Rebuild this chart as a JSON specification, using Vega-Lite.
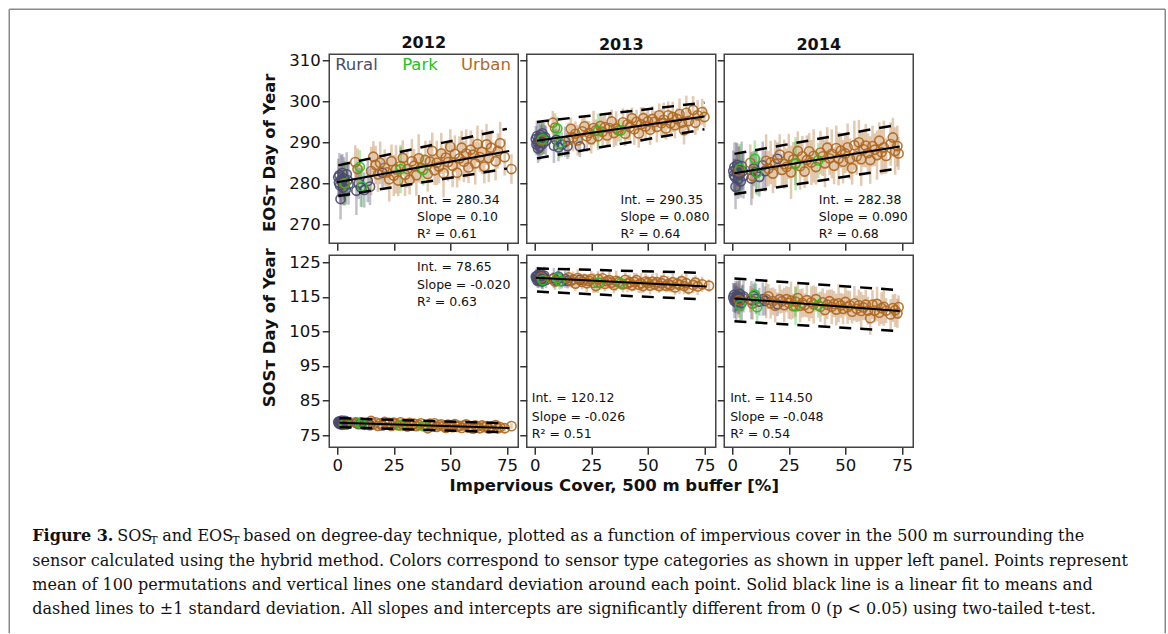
{
"$schema":"https://vega.github.io/schema/vega-lite/v6.json",
"padding":{"left":8.25,"top":8.25,"right":0,"bottom":0},
"background":"white",
"config":{
"font":"DejaVu Sans",
"view":{"stroke":null},
"axis":{"domain":false,"grid":false,"tickColor":"#333","tickWidth":1.5,"tickSize":7,"labelFont":"DejaVu Sans","labelFontSize":16.5,"labelColor":"#111","labelPadding":2,"titleFont":"DejaVu Sans","titleFontSize":16.5,"titleFontWeight":"bold","titleColor":"#111"},
"title":{"font":"DejaVu Sans","fontSize":16,"fontWeight":"bold","color":"#111","offset":1}
},
"datasets":{
"E12":[
{"c":"R","x":0.5,"y":281.5,"e":4.5},{"c":"R","x":0.8,"y":280.2,"e":3.6},{"c":"R","x":1.0,"y":282.0,"e":5.4},{"c":"R","x":1.3,"y":279.5,"e":4.1},{"c":"R","x":1.5,"y":276.2,"e":5.0},{"c":"R","x":1.8,"y":281.0,"e":5.9},{"c":"R","x":2.0,"y":280.5,"e":3.8},{"c":"R","x":2.3,"y":282.5,"e":4.7},{"c":"R","x":2.6,"y":279.0,"e":4.3},{"c":"R","x":3.0,"y":281.2,"e":5.2},{"c":"R","x":3.4,"y":280.0,"e":4.5},{"c":"R","x":3.8,"y":278.5,"e":3.6},{"c":"R","x":4.2,"y":282.2,"e":5.4},{"c":"R","x":4.6,"y":280.8,"e":4.1},{"c":"R","x":5.0,"y":279.8,"e":5.0},{"c":"R","x":8.5,"y":278.2,"e":5.9},{"c":"R","x":9.5,"y":280.0,"e":3.8},{"c":"R","x":10.5,"y":279.0,"e":4.7},{"c":"R","x":12.0,"y":278.4,"e":4.3},{"c":"R","x":13.5,"y":280.6,"e":5.2},{"c":"R","x":14.5,"y":279.2,"e":4.5},{"c":"R","x":20.0,"y":282.6,"e":3.6},
{"c":"U","x":3,"y":280.0,"e":5.4},{"c":"U","x":8,"y":285.2,"e":4.1},{"c":"U","x":9,"y":283.5,"e":5.0},{"c":"U","x":15,"y":283.0,"e":5.9},{"c":"U","x":16,"y":286.5,"e":3.8},{"c":"U","x":17,"y":284.5,"e":4.7},{"c":"U","x":18,"y":282.2,"e":4.3},{"c":"U","x":19,"y":285.0,"e":5.2},{"c":"U","x":21,"y":283.8,"e":4.5},{"c":"U","x":22,"y":282.7,"e":3.6},{"c":"U","x":23,"y":281.0,"e":5.4},{"c":"U","x":24,"y":285.4,"e":4.1},{"c":"U","x":25,"y":281.9,"e":5.0},{"c":"U","x":26,"y":283.4,"e":5.9},{"c":"U","x":27,"y":280.7,"e":3.8},{"c":"U","x":28,"y":284.2,"e":4.7},{"c":"U","x":29,"y":286.2,"e":4.3},{"c":"U","x":30,"y":282.1,"e":5.2},{"c":"U","x":31,"y":283.5,"e":4.5},{"c":"U","x":32,"y":280.9,"e":3.6},{"c":"U","x":33,"y":285.4,"e":5.4},{"c":"U","x":34,"y":284.3,"e":4.1},{"c":"U","x":35,"y":282.0,"e":5.0},{"c":"U","x":36,"y":286.1,"e":5.9},{"c":"U","x":37,"y":283.7,"e":3.8},{"c":"U","x":39,"y":285.7,"e":4.7},{"c":"U","x":40,"y":282.3,"e":4.3},{"c":"U","x":41,"y":285.3,"e":5.2},{"c":"U","x":42,"y":287.9,"e":4.5},{"c":"U","x":43,"y":283.2,"e":3.6},{"c":"U","x":44,"y":285.0,"e":5.4},{"c":"U","x":45,"y":284.1,"e":4.1},{"c":"U","x":46,"y":287.3,"e":5.0},{"c":"U","x":47,"y":282.5,"e":5.9},{"c":"U","x":48,"y":286.3,"e":3.8},{"c":"U","x":49,"y":285.2,"e":4.7},{"c":"U","x":50,"y":288.9,"e":4.3},{"c":"U","x":51,"y":284.3,"e":5.2},{"c":"U","x":52,"y":287.2,"e":4.5},{"c":"U","x":53,"y":282.6,"e":3.6},{"c":"U","x":54,"y":286.1,"e":5.4},{"c":"U","x":55,"y":288.7,"e":4.1},{"c":"U","x":56,"y":285.3,"e":5.0},{"c":"U","x":57,"y":287.3,"e":5.9},{"c":"U","x":58,"y":283.9,"e":3.8},{"c":"U","x":59,"y":288.2,"e":4.7},{"c":"U","x":60,"y":287.0,"e":4.3},{"c":"U","x":61,"y":284.9,"e":5.2},{"c":"U","x":62,"y":289.6,"e":4.5},{"c":"U","x":63,"y":286.4,"e":3.6},{"c":"U","x":64,"y":287.7,"e":5.4},{"c":"U","x":65,"y":284.1,"e":4.1},{"c":"U","x":66,"y":289.5,"e":5.0},{"c":"U","x":67,"y":286.2,"e":5.9},{"c":"U","x":68,"y":288.7,"e":3.8},{"c":"U","x":70,"y":285.4,"e":4.7},{"c":"U","x":71,"y":287.9,"e":4.3},{"c":"U","x":72,"y":289.8,"e":5.2},{"c":"U","x":74,"y":286.4,"e":4.5},{"c":"U","x":77,"y":283.5,"e":3.6},
{"c":"P","x":3.5,"y":280.0,"e":5.4},{"c":"P","x":10,"y":284.0,"e":4.1},{"c":"P","x":11,"y":279.2,"e":5.0},{"c":"P","x":28,"y":283.5,"e":5.9},{"c":"P","x":38,"y":283.3,"e":3.8}
],
"E13":[
{"c":"R","x":0.5,"y":290.8,"e":3.2},{"c":"R","x":0.8,"y":289.5,"e":2.6},{"c":"R","x":1.0,"y":291.5,"e":3.8},{"c":"R","x":1.3,"y":290.0,"e":2.9},{"c":"R","x":1.5,"y":288.5,"e":3.5},{"c":"R","x":1.8,"y":291.0,"e":4.2},{"c":"R","x":2.0,"y":290.2,"e":2.7},{"c":"R","x":2.3,"y":289.0,"e":3.4},{"c":"R","x":2.6,"y":291.8,"e":3.0},{"c":"R","x":3.0,"y":290.6,"e":3.7},{"c":"R","x":3.4,"y":292.2,"e":3.2},{"c":"R","x":3.8,"y":289.8,"e":2.6},{"c":"R","x":4.2,"y":290.9,"e":3.8},{"c":"R","x":4.6,"y":291.3,"e":2.9},{"c":"R","x":5.0,"y":290.4,"e":3.5},{"c":"R","x":8.5,"y":289.2,"e":4.2},{"c":"R","x":9.5,"y":290.6,"e":2.7},{"c":"R","x":10.5,"y":288.8,"e":3.4},{"c":"R","x":12.0,"y":289.5,"e":3.0},{"c":"R","x":13.5,"y":290.2,"e":3.7},{"c":"R","x":14.5,"y":289.1,"e":3.2},{"c":"R","x":20.0,"y":289.0,"e":2.6},
{"c":"U","x":3,"y":290.5,"e":3.8},{"c":"U","x":8,"y":294.8,"e":2.9},{"c":"U","x":9,"y":293.6,"e":3.5},{"c":"U","x":15,"y":290.6,"e":4.2},{"c":"U","x":16,"y":293.3,"e":2.7},{"c":"U","x":17,"y":291.2,"e":3.4},{"c":"U","x":18,"y":292.1,"e":3.0},{"c":"U","x":19,"y":290.5,"e":3.7},{"c":"U","x":21,"y":292.7,"e":3.2},{"c":"U","x":22,"y":293.9,"e":2.6},{"c":"U","x":23,"y":291.5,"e":3.8},{"c":"U","x":24,"y":292.3,"e":2.9},{"c":"U","x":25,"y":290.8,"e":3.5},{"c":"U","x":26,"y":293.5,"e":4.2},{"c":"U","x":27,"y":292.9,"e":2.7},{"c":"U","x":28,"y":291.5,"e":3.4},{"c":"U","x":29,"y":294.0,"e":3.0},{"c":"U","x":30,"y":292.6,"e":3.7},{"c":"U","x":31,"y":293.7,"e":3.2},{"c":"U","x":32,"y":291.7,"e":2.6},{"c":"U","x":33,"y":293.5,"e":3.8},{"c":"U","x":34,"y":295.1,"e":2.9},{"c":"U","x":35,"y":292.3,"e":3.5},{"c":"U","x":36,"y":293.4,"e":4.2},{"c":"U","x":37,"y":292.9,"e":2.7},{"c":"U","x":39,"y":294.9,"e":3.4},{"c":"U","x":40,"y":292.1,"e":3.0},{"c":"U","x":41,"y":294.4,"e":3.7},{"c":"U","x":42,"y":293.7,"e":3.2},{"c":"U","x":43,"y":295.9,"e":2.6},{"c":"U","x":44,"y":293.2,"e":3.8},{"c":"U","x":45,"y":295.0,"e":2.9},{"c":"U","x":46,"y":292.2,"e":3.5},{"c":"U","x":47,"y":294.4,"e":4.2},{"c":"U","x":48,"y":295.9,"e":2.7},{"c":"U","x":49,"y":293.9,"e":3.4},{"c":"U","x":50,"y":295.1,"e":3.0},{"c":"U","x":51,"y":293.1,"e":3.7},{"c":"U","x":52,"y":295.7,"e":3.2},{"c":"U","x":53,"y":295.0,"e":2.6},{"c":"U","x":54,"y":293.8,"e":3.8},{"c":"U","x":55,"y":296.6,"e":2.9},{"c":"U","x":56,"y":294.7,"e":3.5},{"c":"U","x":57,"y":295.5,"e":4.2},{"c":"U","x":58,"y":293.4,"e":2.7},{"c":"U","x":59,"y":296.6,"e":3.4},{"c":"U","x":60,"y":294.7,"e":3.0},{"c":"U","x":61,"y":296.2,"e":3.7},{"c":"U","x":62,"y":294.2,"e":3.2},{"c":"U","x":63,"y":295.7,"e":2.6},{"c":"U","x":64,"y":296.9,"e":3.8},{"c":"U","x":65,"y":294.8,"e":2.9},{"c":"U","x":66,"y":293.0,"e":3.5},{"c":"U","x":67,"y":297.2,"e":4.2},{"c":"U","x":68,"y":295.2,"e":2.7},{"c":"U","x":70,"y":297.9,"e":3.4},{"c":"U","x":71,"y":294.8,"e":3.0},{"c":"U","x":72,"y":296.6,"e":3.7},{"c":"U","x":74,"y":297.4,"e":3.2},{"c":"U","x":75,"y":296.2,"e":2.6},
{"c":"P","x":3.5,"y":290.8,"e":3.8},{"c":"P","x":10,"y":293.4,"e":2.9},{"c":"P","x":11,"y":289.8,"e":3.5},{"c":"P","x":28,"y":292.8,"e":4.2},{"c":"P","x":38,"y":292.9,"e":2.7}
],
"E14":[
{"c":"R","x":0.5,"y":283.0,"e":5.0},{"c":"R","x":0.8,"y":282.0,"e":4.0},{"c":"R","x":1.0,"y":284.0,"e":6.0},{"c":"R","x":1.3,"y":281.5,"e":4.5},{"c":"R","x":1.5,"y":279.2,"e":5.5},{"c":"R","x":1.8,"y":283.5,"e":6.5},{"c":"R","x":2.0,"y":282.6,"e":4.3},{"c":"R","x":2.3,"y":284.5,"e":5.3},{"c":"R","x":2.6,"y":281.0,"e":4.8},{"c":"R","x":3.0,"y":283.2,"e":5.8},{"c":"R","x":3.4,"y":282.2,"e":5.0},{"c":"R","x":3.8,"y":280.5,"e":4.0},{"c":"R","x":4.2,"y":284.2,"e":6.0},{"c":"R","x":4.6,"y":283.0,"e":4.5},{"c":"R","x":5.0,"y":281.8,"e":5.5},{"c":"R","x":8.5,"y":281.2,"e":6.5},{"c":"R","x":9.5,"y":283.6,"e":4.3},{"c":"R","x":10.5,"y":282.8,"e":5.3},{"c":"R","x":12.0,"y":281.6,"e":4.8},{"c":"R","x":13.5,"y":284.4,"e":5.8},{"c":"R","x":14.5,"y":283.0,"e":5.0},{"c":"R","x":20.0,"y":286.0,"e":4.0},
{"c":"U","x":3,"y":283.0,"e":6.0},{"c":"U","x":8,"y":285.0,"e":4.5},{"c":"U","x":9,"y":281.8,"e":5.5},{"c":"U","x":15,"y":285.5,"e":6.5},{"c":"U","x":16,"y":283.6,"e":4.3},{"c":"U","x":17,"y":285.1,"e":5.3},{"c":"U","x":18,"y":282.4,"e":4.8},{"c":"U","x":19,"y":284.8,"e":5.8},{"c":"U","x":21,"y":287.0,"e":5.0},{"c":"U","x":22,"y":283.3,"e":4.0},{"c":"U","x":23,"y":284.7,"e":6.0},{"c":"U","x":24,"y":284.0,"e":4.5},{"c":"U","x":25,"y":286.6,"e":5.5},{"c":"U","x":26,"y":282.7,"e":6.5},{"c":"U","x":27,"y":285.8,"e":4.3},{"c":"U","x":28,"y":284.9,"e":5.3},{"c":"U","x":29,"y":287.9,"e":4.8},{"c":"U","x":30,"y":284.2,"e":5.8},{"c":"U","x":31,"y":286.6,"e":5.0},{"c":"U","x":32,"y":282.9,"e":4.0},{"c":"U","x":33,"y":285.7,"e":6.0},{"c":"U","x":34,"y":287.8,"e":4.5},{"c":"U","x":35,"y":285.1,"e":5.5},{"c":"U","x":36,"y":286.7,"e":6.5},{"c":"U","x":37,"y":284.0,"e":4.3},{"c":"U","x":39,"y":287.5,"e":5.3},{"c":"U","x":40,"y":286.6,"e":4.8},{"c":"U","x":41,"y":284.9,"e":5.8},{"c":"U","x":42,"y":288.7,"e":5.0},{"c":"U","x":43,"y":286.1,"e":4.0},{"c":"U","x":44,"y":287.2,"e":6.0},{"c":"U","x":45,"y":284.3,"e":4.5},{"c":"U","x":46,"y":288.6,"e":5.5},{"c":"U","x":47,"y":286.0,"e":6.5},{"c":"U","x":48,"y":288.0,"e":4.3},{"c":"U","x":49,"y":285.3,"e":5.3},{"c":"U","x":50,"y":287.3,"e":4.8},{"c":"U","x":51,"y":288.8,"e":5.8},{"c":"U","x":52,"y":286.0,"e":5.0},{"c":"U","x":53,"y":283.7,"e":4.0},{"c":"U","x":54,"y":289.3,"e":6.0},{"c":"U","x":55,"y":286.6,"e":4.5},{"c":"U","x":56,"y":290.0,"e":5.5},{"c":"U","x":57,"y":285.9,"e":6.5},{"c":"U","x":58,"y":288.3,"e":4.3},{"c":"U","x":59,"y":289.2,"e":5.3},{"c":"U","x":60,"y":287.4,"e":4.8},{"c":"U","x":61,"y":285.7,"e":5.8},{"c":"U","x":62,"y":289.1,"e":5.0},{"c":"U","x":63,"y":288.2,"e":4.0},{"c":"U","x":64,"y":286.9,"e":6.0},{"c":"U","x":65,"y":290.4,"e":4.5},{"c":"U","x":66,"y":287.6,"e":5.5},{"c":"U","x":67,"y":288.8,"e":6.5},{"c":"U","x":68,"y":286.7,"e":4.3},{"c":"U","x":70,"y":289.6,"e":5.3},{"c":"U","x":71,"y":291.2,"e":4.8},{"c":"U","x":72,"y":287.9,"e":5.8},{"c":"U","x":73,"y":289.1,"e":5.0},{"c":"U","x":73.5,"y":287.3,"e":4.0},
{"c":"P","x":3.5,"y":283.6,"e":6.0},{"c":"P","x":10,"y":286.0,"e":4.5},{"c":"P","x":11,"y":282.6,"e":5.5},{"c":"P","x":28,"y":284.8,"e":6.5},{"c":"P","x":38,"y":285.6,"e":4.3}
],
"S12":[
{"c":"R","x":0.5,"y":78.8,"e":1.0},{"c":"R","x":0.8,"y":78.4,"e":0.8},{"c":"R","x":1.0,"y":79.0,"e":1.2},{"c":"R","x":1.3,"y":78.2,"e":0.9},{"c":"R","x":1.5,"y":78.9,"e":1.1},{"c":"R","x":1.8,"y":78.5,"e":1.3},{"c":"R","x":2.0,"y":79.2,"e":0.9},{"c":"R","x":2.3,"y":78.0,"e":1.1},{"c":"R","x":2.6,"y":78.7,"e":1.0},{"c":"R","x":3.0,"y":78.3,"e":1.2},{"c":"R","x":3.4,"y":79.1,"e":1.0},{"c":"R","x":3.8,"y":78.6,"e":0.8},{"c":"R","x":4.2,"y":78.1,"e":1.2},{"c":"R","x":4.6,"y":78.8,"e":0.9},{"c":"R","x":5.0,"y":78.4,"e":1.1},{"c":"R","x":8.5,"y":78.5,"e":1.3},{"c":"R","x":9.5,"y":78.2,"e":0.9},{"c":"R","x":10.5,"y":78.6,"e":1.1},{"c":"R","x":12.0,"y":78.0,"e":1.0},{"c":"R","x":13.5,"y":78.3,"e":1.2},{"c":"R","x":14.5,"y":77.9,"e":1.0},{"c":"R","x":20.0,"y":77.8,"e":0.8},
{"c":"U","x":3,"y":78.1,"e":1.2},{"c":"U","x":8,"y":78.7,"e":0.9},{"c":"U","x":9,"y":78.5,"e":1.1},{"c":"U","x":15,"y":79.1,"e":1.3},{"c":"U","x":16,"y":78.1,"e":0.9},{"c":"U","x":17,"y":78.7,"e":1.1},{"c":"U","x":18,"y":77.7,"e":1.0},{"c":"U","x":19,"y":78.4,"e":1.2},{"c":"U","x":21,"y":78.8,"e":1.0},{"c":"U","x":22,"y":78.1,"e":0.8},{"c":"U","x":23,"y":78.5,"e":1.2},{"c":"U","x":24,"y":77.7,"e":0.9},{"c":"U","x":25,"y":78.6,"e":1.1},{"c":"U","x":26,"y":78.3,"e":1.3},{"c":"U","x":27,"y":77.8,"e":0.9},{"c":"U","x":28,"y":78.7,"e":1.1},{"c":"U","x":29,"y":78.0,"e":1.0},{"c":"U","x":30,"y":78.3,"e":1.2},{"c":"U","x":31,"y":77.5,"e":1.0},{"c":"U","x":32,"y":78.5,"e":0.8},{"c":"U","x":33,"y":77.8,"e":1.2},{"c":"U","x":34,"y":78.3,"e":0.9},{"c":"U","x":35,"y":77.6,"e":1.1},{"c":"U","x":36,"y":78.0,"e":1.3},{"c":"U","x":37,"y":78.4,"e":0.9},{"c":"U","x":39,"y":77.6,"e":1.1},{"c":"U","x":40,"y":77.0,"e":1.0},{"c":"U","x":41,"y":78.3,"e":1.2},{"c":"U","x":42,"y":77.6,"e":1.0},{"c":"U","x":43,"y":78.4,"e":0.8},{"c":"U","x":44,"y":77.4,"e":1.2},{"c":"U","x":45,"y":77.9,"e":0.9},{"c":"U","x":46,"y":78.1,"e":1.1},{"c":"U","x":47,"y":77.6,"e":1.3},{"c":"U","x":48,"y":77.1,"e":0.9},{"c":"U","x":49,"y":78.0,"e":1.1},{"c":"U","x":50,"y":77.7,"e":1.0},{"c":"U","x":51,"y":77.3,"e":1.2},{"c":"U","x":52,"y":78.2,"e":1.0},{"c":"U","x":53,"y":77.4,"e":0.8},{"c":"U","x":54,"y":77.7,"e":1.2},{"c":"U","x":55,"y":77.1,"e":0.9},{"c":"U","x":56,"y":77.8,"e":1.1},{"c":"U","x":57,"y":78.1,"e":1.3},{"c":"U","x":58,"y":77.3,"e":0.9},{"c":"U","x":59,"y":77.5,"e":1.1},{"c":"U","x":60,"y":76.9,"e":1.0},{"c":"U","x":61,"y":77.8,"e":1.2},{"c":"U","x":62,"y":77.5,"e":1.0},{"c":"U","x":63,"y":77.0,"e":0.8},{"c":"U","x":64,"y":77.8,"e":1.2},{"c":"U","x":65,"y":77.3,"e":0.9},{"c":"U","x":66,"y":77.6,"e":1.1},{"c":"U","x":67,"y":76.9,"e":1.3},{"c":"U","x":68,"y":77.5,"e":0.9},{"c":"U","x":70,"y":77.9,"e":1.1},{"c":"U","x":71,"y":77.0,"e":1.0},{"c":"U","x":72,"y":77.3,"e":1.2},{"c":"U","x":74,"y":77.0,"e":1.0},{"c":"U","x":77,"y":77.6,"e":0.8},
{"c":"P","x":3.5,"y":78.4,"e":1.2},{"c":"P","x":10,"y":78.5,"e":0.9},{"c":"P","x":11,"y":78.2,"e":1.1},{"c":"P","x":28,"y":77.8,"e":1.3},{"c":"P","x":38,"y":77.6,"e":0.9}
],
"S13":[
{"c":"R","x":0.5,"y":120.8,"e":2.2},{"c":"R","x":0.8,"y":120.2,"e":1.8},{"c":"R","x":1.0,"y":121.0,"e":2.6},{"c":"R","x":1.3,"y":119.6,"e":2.0},{"c":"R","x":1.5,"y":121.3,"e":2.4},{"c":"R","x":1.8,"y":120.5,"e":2.9},{"c":"R","x":2.0,"y":119.8,"e":1.9},{"c":"R","x":2.3,"y":120.9,"e":2.3},{"c":"R","x":2.6,"y":121.5,"e":2.1},{"c":"R","x":3.0,"y":120.0,"e":2.5},{"c":"R","x":3.4,"y":119.4,"e":2.2},{"c":"R","x":3.8,"y":120.6,"e":1.8},{"c":"R","x":4.2,"y":121.1,"e":2.6},{"c":"R","x":4.6,"y":120.3,"e":2.0},{"c":"R","x":5.0,"y":119.9,"e":2.4},{"c":"R","x":8.5,"y":120.4,"e":2.9},{"c":"R","x":9.5,"y":119.7,"e":1.9},{"c":"R","x":10.5,"y":120.8,"e":2.3},{"c":"R","x":12.0,"y":119.5,"e":2.1},{"c":"R","x":13.5,"y":120.1,"e":2.5},{"c":"R","x":14.5,"y":119.6,"e":2.2},{"c":"R","x":20.0,"y":119.9,"e":1.8},
{"c":"U","x":3,"y":120.6,"e":2.6},{"c":"U","x":8,"y":120.1,"e":2.0},{"c":"U","x":9,"y":119.4,"e":2.4},{"c":"U","x":15,"y":120.6,"e":2.9},{"c":"U","x":16,"y":119.6,"e":1.9},{"c":"U","x":17,"y":120.0,"e":2.3},{"c":"U","x":18,"y":118.8,"e":2.1},{"c":"U","x":19,"y":120.4,"e":2.5},{"c":"U","x":21,"y":119.3,"e":2.2},{"c":"U","x":22,"y":120.0,"e":1.8},{"c":"U","x":23,"y":118.9,"e":2.6},{"c":"U","x":24,"y":119.6,"e":2.0},{"c":"U","x":25,"y":120.1,"e":2.4},{"c":"U","x":26,"y":119.0,"e":2.9},{"c":"U","x":27,"y":118.1,"e":1.9},{"c":"U","x":28,"y":120.1,"e":2.3},{"c":"U","x":29,"y":119.0,"e":2.1},{"c":"U","x":30,"y":120.3,"e":2.5},{"c":"U","x":31,"y":118.7,"e":2.2},{"c":"U","x":32,"y":119.5,"e":1.8},{"c":"U","x":33,"y":119.8,"e":2.6},{"c":"U","x":34,"y":119.1,"e":2.0},{"c":"U","x":35,"y":118.4,"e":2.4},{"c":"U","x":36,"y":119.6,"e":2.9},{"c":"U","x":37,"y":119.2,"e":1.9},{"c":"U","x":39,"y":118.6,"e":2.3},{"c":"U","x":40,"y":119.9,"e":2.1},{"c":"U","x":41,"y":118.8,"e":2.5},{"c":"U","x":42,"y":119.2,"e":2.2},{"c":"U","x":43,"y":118.3,"e":1.8},{"c":"U","x":44,"y":119.3,"e":2.6},{"c":"U","x":45,"y":119.8,"e":2.0},{"c":"U","x":46,"y":118.5,"e":2.4},{"c":"U","x":47,"y":118.9,"e":2.9},{"c":"U","x":48,"y":118.1,"e":1.9},{"c":"U","x":49,"y":119.4,"e":2.3},{"c":"U","x":50,"y":119.0,"e":2.1},{"c":"U","x":51,"y":118.2,"e":2.5},{"c":"U","x":52,"y":119.4,"e":2.2},{"c":"U","x":53,"y":118.6,"e":1.8},{"c":"U","x":54,"y":119.2,"e":2.6},{"c":"U","x":55,"y":118.1,"e":2.0},{"c":"U","x":56,"y":118.9,"e":2.4},{"c":"U","x":57,"y":119.6,"e":2.9},{"c":"U","x":58,"y":118.2,"e":1.9},{"c":"U","x":59,"y":118.7,"e":2.3},{"c":"U","x":60,"y":118.3,"e":2.1},{"c":"U","x":61,"y":119.2,"e":2.5},{"c":"U","x":62,"y":117.7,"e":2.2},{"c":"U","x":63,"y":118.8,"e":1.8},{"c":"U","x":64,"y":118.4,"e":2.6},{"c":"U","x":65,"y":119.5,"e":2.0},{"c":"U","x":66,"y":118.1,"e":2.4},{"c":"U","x":67,"y":118.9,"e":2.9},{"c":"U","x":68,"y":117.4,"e":1.9},{"c":"U","x":70,"y":118.4,"e":2.3},{"c":"U","x":71,"y":119.1,"e":2.1},{"c":"U","x":72,"y":118.0,"e":2.5},{"c":"U","x":74,"y":118.6,"e":2.2},{"c":"U","x":77,"y":118.2,"e":1.8},
{"c":"P","x":3.5,"y":119.8,"e":2.6},{"c":"P","x":10,"y":120.5,"e":2.0},{"c":"P","x":11,"y":119.5,"e":2.4},{"c":"P","x":28,"y":119.0,"e":2.9},{"c":"P","x":38,"y":118.9,"e":1.9}
],
"S14":[
{"c":"R","x":0.5,"y":114.8,"e":4.2},{"c":"R","x":0.8,"y":115.5,"e":3.4},{"c":"R","x":1.0,"y":113.8,"e":5.0},{"c":"R","x":1.3,"y":114.2,"e":3.8},{"c":"R","x":1.5,"y":115.0,"e":4.6},{"c":"R","x":1.8,"y":113.5,"e":5.5},{"c":"R","x":2.0,"y":114.6,"e":3.6},{"c":"R","x":2.3,"y":115.3,"e":4.4},{"c":"R","x":2.6,"y":113.9,"e":4.0},{"c":"R","x":3.0,"y":114.9,"e":4.8},{"c":"R","x":3.4,"y":115.8,"e":4.2},{"c":"R","x":3.8,"y":114.1,"e":3.4},{"c":"R","x":4.2,"y":113.2,"e":5.0},{"c":"R","x":4.6,"y":114.7,"e":3.8},{"c":"R","x":5.0,"y":115.1,"e":4.6},{"c":"R","x":8.5,"y":114.0,"e":5.5},{"c":"R","x":9.5,"y":115.2,"e":3.6},{"c":"R","x":10.5,"y":114.4,"e":4.4},{"c":"R","x":12.0,"y":113.6,"e":4.0},{"c":"R","x":13.5,"y":114.3,"e":4.8},{"c":"R","x":14.5,"y":113.8,"e":4.2},{"c":"R","x":20.0,"y":112.8,"e":3.4},
{"c":"U","x":3,"y":114.0,"e":5.0},{"c":"U","x":8,"y":114.3,"e":3.8},{"c":"U","x":9,"y":113.0,"e":4.6},{"c":"U","x":15,"y":114.3,"e":5.5},{"c":"U","x":16,"y":115.1,"e":3.6},{"c":"U","x":17,"y":113.1,"e":4.4},{"c":"U","x":18,"y":113.7,"e":4.0},{"c":"U","x":19,"y":112.4,"e":4.8},{"c":"U","x":21,"y":114.3,"e":4.2},{"c":"U","x":22,"y":113.7,"e":3.4},{"c":"U","x":23,"y":112.6,"e":5.0},{"c":"U","x":24,"y":114.3,"e":3.8},{"c":"U","x":25,"y":113.2,"e":4.6},{"c":"U","x":26,"y":113.9,"e":5.5},{"c":"U","x":27,"y":112.3,"e":3.6},{"c":"U","x":28,"y":113.6,"e":4.4},{"c":"U","x":29,"y":114.6,"e":4.0},{"c":"U","x":30,"y":112.4,"e":4.8},{"c":"U","x":31,"y":113.2,"e":4.2},{"c":"U","x":32,"y":112.6,"e":3.4},{"c":"U","x":33,"y":114.0,"e":5.0},{"c":"U","x":34,"y":111.7,"e":3.8},{"c":"U","x":35,"y":113.4,"e":4.6},{"c":"U","x":36,"y":112.8,"e":5.5},{"c":"U","x":37,"y":114.3,"e":3.6},{"c":"U","x":39,"y":112.1,"e":4.4},{"c":"U","x":40,"y":113.4,"e":4.0},{"c":"U","x":41,"y":111.2,"e":4.8},{"c":"U","x":42,"y":112.7,"e":4.2},{"c":"U","x":43,"y":113.7,"e":3.4},{"c":"U","x":44,"y":112.1,"e":5.0},{"c":"U","x":45,"y":112.9,"e":3.8},{"c":"U","x":46,"y":111.3,"e":4.6},{"c":"U","x":47,"y":113.1,"e":5.5},{"c":"U","x":48,"y":112.5,"e":3.6},{"c":"U","x":49,"y":111.5,"e":4.4},{"c":"U","x":50,"y":113.5,"e":4.0},{"c":"U","x":51,"y":112.0,"e":4.8},{"c":"U","x":52,"y":112.5,"e":4.2},{"c":"U","x":53,"y":110.7,"e":3.4},{"c":"U","x":54,"y":113.1,"e":5.0},{"c":"U","x":55,"y":111.5,"e":3.8},{"c":"U","x":56,"y":112.5,"e":4.6},{"c":"U","x":57,"y":110.9,"e":5.5},{"c":"U","x":58,"y":111.9,"e":3.6},{"c":"U","x":59,"y":112.7,"e":4.4},{"c":"U","x":60,"y":111.0,"e":4.0},{"c":"U","x":61,"y":108.8,"e":4.8},{"c":"U","x":62,"y":112.7,"e":4.2},{"c":"U","x":63,"y":111.0,"e":3.4},{"c":"U","x":64,"y":112.9,"e":5.0},{"c":"U","x":65,"y":110.4,"e":3.8},{"c":"U","x":66,"y":111.7,"e":4.6},{"c":"U","x":67,"y":112.1,"e":5.5},{"c":"U","x":68,"y":111.0,"e":3.6},{"c":"U","x":70,"y":109.9,"e":4.4},{"c":"U","x":71,"y":111.7,"e":4.0},{"c":"U","x":72,"y":111.1,"e":4.8},{"c":"U","x":73,"y":110.2,"e":4.2},{"c":"U","x":73.5,"y":112.0,"e":3.4},
{"c":"P","x":3.5,"y":112.5,"e":5.0},{"c":"P","x":10,"y":115.6,"e":3.8},{"c":"P","x":11,"y":112.0,"e":4.6},{"c":"P","x":28,"y":112.3,"e":5.5},{"c":"P","x":38,"y":112.6,"e":3.6}
],
"lines":[
{"p":"E12","k":"f","x":0,"y":280.3},{"p":"E12","k":"f","x":76,"y":287.9},{"p":"E12","k":"u","x":0.5,"y":284.4},{"p":"E12","k":"u","x":75,"y":293.3},{"p":"E12","k":"l","x":0.5,"y":276.9},{"p":"E12","k":"l","x":75,"y":283.6},
{"p":"E13","k":"f","x":1,"y":290.4},{"p":"E13","k":"f","x":75,"y":296.3},{"p":"E13","k":"u","x":1,"y":295.0},{"p":"E13","k":"u","x":75,"y":299.7},{"p":"E13","k":"l","x":1,"y":286.1},{"p":"E13","k":"l","x":75,"y":293.2},
{"p":"E14","k":"f","x":1,"y":282.5},{"p":"E14","k":"f","x":74,"y":289.0},{"p":"E14","k":"u","x":1,"y":287.2},{"p":"E14","k":"u","x":74,"y":294.4},{"p":"E14","k":"l","x":1,"y":277.4},{"p":"E14","k":"l","x":74,"y":283.7},
{"p":"S12","k":"f","x":1,"y":78.6},{"p":"S12","k":"f","x":76,"y":77.1},{"p":"S12","k":"u","x":1,"y":79.9},{"p":"S12","k":"u","x":75,"y":78.4},{"p":"S12","k":"l","x":1,"y":77.3},{"p":"S12","k":"l","x":75,"y":75.8},
{"p":"S13","k":"f","x":0.5,"y":120.5},{"p":"S13","k":"f","x":76,"y":118.0},{"p":"S13","k":"u","x":1,"y":123.2},{"p":"S13","k":"u","x":75,"y":121.9},{"p":"S13","k":"l","x":1,"y":116.5},{"p":"S13","k":"l","x":75,"y":114.2},
{"p":"S14","k":"f","x":1,"y":114.5},{"p":"S14","k":"f","x":74,"y":110.9},{"p":"S14","k":"u","x":1,"y":120.3},{"p":"S14","k":"u","x":74,"y":116.9},{"p":"S14","k":"l","x":1,"y":107.9},{"p":"S14","k":"l","x":74,"y":105.1}
],
"notes":[
{"p":"E12","x":35.3,"y":275.9,"t":"Int. = 280.34"},{"p":"E12","x":35.3,"y":271.8,"t":"Slope = 0.10"},{"p":"E12","x":35.3,"y":267.6,"t":"R² = 0.61"},
{"p":"E13","x":37.9,"y":275.9,"t":"Int. = 290.35"},{"p":"E13","x":37.9,"y":271.8,"t":"Slope = 0.080"},{"p":"E13","x":37.9,"y":267.6,"t":"R² = 0.64"},
{"p":"E14","x":38.3,"y":275.9,"t":"Int. = 282.38"},{"p":"E14","x":38.3,"y":271.8,"t":"Slope = 0.090"},{"p":"E14","x":38.3,"y":267.6,"t":"R² = 0.68"},
{"p":"S12","x":35.3,"y":123.6,"t":"Int. = 78.65"},{"p":"S12","x":35.3,"y":118.4,"t":"Slope = -0.020"},{"p":"S12","x":35.3,"y":113.4,"t":"R² = 0.63"},
{"p":"S13","x":-1.3,"y":85.7,"t":"Int. = 120.12"},{"p":"S13","x":-1.3,"y":80.2,"t":"Slope = -0.026"},{"p":"S13","x":-1.3,"y":75.3,"t":"R² = 0.51"},
{"p":"S14","x":-0.9,"y":85.7,"t":"Int. = 114.50"},{"p":"S14","x":-0.9,"y":80.2,"t":"Slope = -0.048"},{"p":"S14","x":-0.9,"y":75.3,"t":"R² = 0.54"}
],
"legend":[
{"c":"R","t":"Rural","x":-0.9,"y":308.8},{"c":"P","t":"Park","x":28.7,"y":308.8},{"c":"U","t":"Urban","x":54.7,"y":308.8}
]
},
"concat":[
{
"width":189,"height":189,"title":"2012",
"view":{"stroke":"#444","strokeWidth":1.5},
"encoding":{
"x":{"field":"x","type":"quantitative","scale":{"domain":[-3.5,80],"nice":false,"zero":false},"axis":{"values":[0,25,50,75],"labels":false,"title":null}},
"y":{"field":"y","type":"quantitative","scale":{"domain":[265.4,311.5],"nice":false,"zero":false},"axis":{"values":[270,280,290,300,310],"title":"EOSᴛ Day of Year","titlePadding":11,"titleY":98}}
},
"layer":[
{"data":{"name":"E12"},"mark":{"type":"errorbar","thickness":2.5,"rule":{"opacity":0.35}},"encoding":{"yError":{"field":"e"},"color":{"field":"c","type":"nominal","scale":{"domain":["R","P","U"],"range":["#4a4a6e","#22c322","#b0681f"]},"legend":null}}},
{"data":{"name":"E12"},"mark":{"type":"point","filled":false,"size":85,"strokeWidth":1.6,"opacity":0.9},"encoding":{"color":{"field":"c","type":"nominal","scale":{"domain":["R","P","U"],"range":["#4a4a6e","#22c322","#b0681f"]},"legend":null}}},
{"data":{"name":"lines"},"transform":[{"filter":"datum.p=='E12' && datum.k!='f'"}],"mark":{"type":"line","color":"#000","strokeWidth":2.5,"strokeDash":[12,9]},"encoding":{"detail":{"field":"k"}}},
{"data":{"name":"lines"},"transform":[{"filter":"datum.p=='E12' && datum.k=='f'"}],"mark":{"type":"line","color":"#000","strokeWidth":2},"encoding":{}},
{"data":{"name":"notes"},"transform":[{"filter":"datum.p=='E12'"}],"mark":{"type":"text","align":"left","baseline":"middle","fontSize":12.5,"color":"#111"},"encoding":{"text":{"field":"t"}}},
{"data":{"name":"legend"},"mark":{"type":"text","align":"left","baseline":"middle","fontSize":16.5},"encoding":{"text":{"field":"t"},"color":{"field":"c","type":"nominal","scale":{"domain":["R","P","U"],"range":["#4a4a6e","#22c322","#b0681f"]},"legend":null}}}
]
},
{
"width":189,"height":189,"title":"2013",
"view":{"stroke":"#444","strokeWidth":1.5},
"encoding":{
"x":{"field":"x","type":"quantitative","scale":{"domain":[-3.5,80],"nice":false,"zero":false},"axis":{"values":[0,25,50,75],"labels":false,"title":null}},
"y":{"field":"y","type":"quantitative","scale":{"domain":[265.4,311.5],"nice":false,"zero":false},"axis":{"values":[270,280,290,300,310],"labels":false,"title":null}}
},
"layer":[
{"data":{"name":"E13"},"mark":{"type":"errorbar","thickness":2.5,"rule":{"opacity":0.35}},"encoding":{"yError":{"field":"e"},"color":{"field":"c","type":"nominal","scale":{"domain":["R","P","U"],"range":["#4a4a6e","#22c322","#b0681f"]},"legend":null}}},
{"data":{"name":"E13"},"mark":{"type":"point","filled":false,"size":85,"strokeWidth":1.6,"opacity":0.9},"encoding":{"color":{"field":"c","type":"nominal","scale":{"domain":["R","P","U"],"range":["#4a4a6e","#22c322","#b0681f"]},"legend":null}}},
{"data":{"name":"lines"},"transform":[{"filter":"datum.p=='E13' && datum.k!='f'"}],"mark":{"type":"line","color":"#000","strokeWidth":2.5,"strokeDash":[12,9]},"encoding":{"detail":{"field":"k"}}},
{"data":{"name":"lines"},"transform":[{"filter":"datum.p=='E13' && datum.k=='f'"}],"mark":{"type":"line","color":"#000","strokeWidth":2},"encoding":{}},
{"data":{"name":"notes"},"transform":[{"filter":"datum.p=='E13'"}],"mark":{"type":"text","align":"left","baseline":"middle","fontSize":12.5,"color":"#111"},"encoding":{"text":{"field":"t"}}}
]
},
{
"width":189,"height":189,"title":"2014",
"view":{"stroke":"#444","strokeWidth":1.5},
"encoding":{
"x":{"field":"x","type":"quantitative","scale":{"domain":[-3.5,80],"nice":false,"zero":false},"axis":{"values":[0,25,50,75],"labels":false,"title":null}},
"y":{"field":"y","type":"quantitative","scale":{"domain":[265.4,311.5],"nice":false,"zero":false},"axis":{"values":[270,280,290,300,310],"labels":false,"title":null}}
},
"layer":[
{"data":{"name":"E14"},"mark":{"type":"errorbar","thickness":2.5,"rule":{"opacity":0.35}},"encoding":{"yError":{"field":"e"},"color":{"field":"c","type":"nominal","scale":{"domain":["R","P","U"],"range":["#4a4a6e","#22c322","#b0681f"]},"legend":null}}},
{"data":{"name":"E14"},"mark":{"type":"point","filled":false,"size":85,"strokeWidth":1.6,"opacity":0.9},"encoding":{"color":{"field":"c","type":"nominal","scale":{"domain":["R","P","U"],"range":["#4a4a6e","#22c322","#b0681f"]},"legend":null}}},
{"data":{"name":"lines"},"transform":[{"filter":"datum.p=='E14' && datum.k!='f'"}],"mark":{"type":"line","color":"#000","strokeWidth":2.5,"strokeDash":[12,9]},"encoding":{"detail":{"field":"k"}}},
{"data":{"name":"lines"},"transform":[{"filter":"datum.p=='E14' && datum.k=='f'"}],"mark":{"type":"line","color":"#000","strokeWidth":2},"encoding":{}},
{"data":{"name":"notes"},"transform":[{"filter":"datum.p=='E14'"}],"mark":{"type":"text","align":"left","baseline":"middle","fontSize":12.5,"color":"#111"},"encoding":{"text":{"field":"t"}}}
]
},
{
"width":189,"height":192,
"view":{"stroke":"#444","strokeWidth":1.5},
"encoding":{
"x":{"field":"x","type":"quantitative","scale":{"domain":[-3.5,80],"nice":false,"zero":false},"axis":{"values":[0,25,50,75],"title":null,"labelPadding":3}},
"y":{"field":"y","type":"quantitative","scale":{"domain":[71.5,127],"nice":false,"zero":false},"axis":{"values":[75,85,95,105,115,125],"title":"SOSᴛ Day of Year","titlePadding":11,"titleY":72}}
},
"layer":[
{"data":{"name":"S12"},"mark":{"type":"errorbar","thickness":2.5,"rule":{"opacity":0.35}},"encoding":{"yError":{"field":"e"},"color":{"field":"c","type":"nominal","scale":{"domain":["R","P","U"],"range":["#4a4a6e","#22c322","#b0681f"]},"legend":null}}},
{"data":{"name":"S12"},"mark":{"type":"point","filled":false,"size":85,"strokeWidth":1.6,"opacity":0.9},"encoding":{"color":{"field":"c","type":"nominal","scale":{"domain":["R","P","U"],"range":["#4a4a6e","#22c322","#b0681f"]},"legend":null}}},
{"data":{"name":"lines"},"transform":[{"filter":"datum.p=='S12' && datum.k!='f'"}],"mark":{"type":"line","color":"#000","strokeWidth":2.5,"strokeDash":[12,9]},"encoding":{"detail":{"field":"k"}}},
{"data":{"name":"lines"},"transform":[{"filter":"datum.p=='S12' && datum.k=='f'"}],"mark":{"type":"line","color":"#000","strokeWidth":2},"encoding":{}},
{"data":{"name":"notes"},"transform":[{"filter":"datum.p=='S12'"}],"mark":{"type":"text","align":"left","baseline":"middle","fontSize":12.5,"color":"#111"},"encoding":{"text":{"field":"t"}}}
]
},
{
"width":189,"height":192,
"view":{"stroke":"#444","strokeWidth":1.5},
"encoding":{
"x":{"field":"x","type":"quantitative","scale":{"domain":[-3.5,80],"nice":false,"zero":false},"axis":{"values":[0,25,50,75],"title":"Impervious Cover, 500 m buffer [%]","labelPadding":3,"titlePadding":4,"titleX":87}},
"y":{"field":"y","type":"quantitative","scale":{"domain":[71.5,127],"nice":false,"zero":false},"axis":{"values":[75,85,95,105,115,125],"labels":false,"title":null}}
},
"layer":[
{"data":{"name":"S13"},"mark":{"type":"errorbar","thickness":2.5,"rule":{"opacity":0.35}},"encoding":{"yError":{"field":"e"},"color":{"field":"c","type":"nominal","scale":{"domain":["R","P","U"],"range":["#4a4a6e","#22c322","#b0681f"]},"legend":null}}},
{"data":{"name":"S13"},"mark":{"type":"point","filled":false,"size":85,"strokeWidth":1.6,"opacity":0.9},"encoding":{"color":{"field":"c","type":"nominal","scale":{"domain":["R","P","U"],"range":["#4a4a6e","#22c322","#b0681f"]},"legend":null}}},
{"data":{"name":"lines"},"transform":[{"filter":"datum.p=='S13' && datum.k!='f'"}],"mark":{"type":"line","color":"#000","strokeWidth":2.5,"strokeDash":[12,9]},"encoding":{"detail":{"field":"k"}}},
{"data":{"name":"lines"},"transform":[{"filter":"datum.p=='S13' && datum.k=='f'"}],"mark":{"type":"line","color":"#000","strokeWidth":2},"encoding":{}},
{"data":{"name":"notes"},"transform":[{"filter":"datum.p=='S13'"}],"mark":{"type":"text","align":"left","baseline":"middle","fontSize":12.5,"color":"#111"},"encoding":{"text":{"field":"t"}}}
]
},
{
"width":189,"height":192,
"view":{"stroke":"#444","strokeWidth":1.5},
"encoding":{
"x":{"field":"x","type":"quantitative","scale":{"domain":[-3.5,80],"nice":false,"zero":false},"axis":{"values":[0,25,50,75],"title":null,"labelPadding":3}},
"y":{"field":"y","type":"quantitative","scale":{"domain":[71.5,127],"nice":false,"zero":false},"axis":{"values":[75,85,95,105,115,125],"labels":false,"title":null}}
},
"layer":[
{"data":{"name":"S14"},"mark":{"type":"errorbar","thickness":2.5,"rule":{"opacity":0.35}},"encoding":{"yError":{"field":"e"},"color":{"field":"c","type":"nominal","scale":{"domain":["R","P","U"],"range":["#4a4a6e","#22c322","#b0681f"]},"legend":null}}},
{"data":{"name":"S14"},"mark":{"type":"point","filled":false,"size":85,"strokeWidth":1.6,"opacity":0.9},"encoding":{"color":{"field":"c","type":"nominal","scale":{"domain":["R","P","U"],"range":["#4a4a6e","#22c322","#b0681f"]},"legend":null}}},
{"data":{"name":"lines"},"transform":[{"filter":"datum.p=='S14' && datum.k!='f'"}],"mark":{"type":"line","color":"#000","strokeWidth":2.5,"strokeDash":[12,9]},"encoding":{"detail":{"field":"k"}}},
{"data":{"name":"lines"},"transform":[{"filter":"datum.p=='S14' && datum.k=='f'"}],"mark":{"type":"line","color":"#000","strokeWidth":2},"encoding":{}},
{"data":{"name":"notes"},"transform":[{"filter":"datum.p=='S14'"}],"mark":{"type":"text","align":"left","baseline":"middle","fontSize":12.5,"color":"#111"},"encoding":{"text":{"field":"t"}}}
]
},
{
"width":189,"height":100,
"layer":[
{"data":{"values":[{"k":1}]},"mark":{"type":"rule","color":"#8a8a8a","strokeWidth":1.5},"encoding":{"x":{"value":-320},"y":{"value":-450},"y2":{"value":174}}},
{"data":{"values":[{"k":1}]},"mark":{"type":"rule","color":"#8a8a8a","strokeWidth":1.5},"encoding":{"x":{"value":-320},"x2":{"value":836},"y":{"value":-450}}},
{"data":{"values":[{"k":1}]},"mark":{"type":"rule","color":"#8a8a8a","strokeWidth":1.5},"encoding":{"x":{"value":836},"y":{"value":-450},"y2":{"value":174}}},
{
"encoding":{"x":{"value":-297},"y":{"field":"l","type":"quantitative","scale":{"domain":[1,4],"range":[77,150]},"axis":null},"text":{"field":"t"}},
"layer":[
{"data":{"values":[{"l":1,"t":"Figure 3."}]},"mark":{"type":"text","font":"DejaVu Serif","fontWeight":"bold","fontSize":16,"align":"left","baseline":"middle","color":"#111"}},
{"data":{"values":[{"l":1,"t":"SOS"}]},"mark":{"type":"text","font":"DejaVu Serif","fontSize":16,"align":"left","baseline":"middle","color":"#111","dx":85}},
{"data":{"values":[{"l":1,"t":"T"}]},"mark":{"type":"text","font":"DejaVu Serif","fontSize":11,"align":"left","baseline":"middle","color":"#111","dx":118,"dy":4.5}},
{"data":{"values":[{"l":1,"t":"and EOS"}]},"mark":{"type":"text","font":"DejaVu Serif","fontSize":16,"align":"left","baseline":"middle","color":"#111","dx":130}},
{"data":{"values":[{"l":1,"t":"T"}]},"mark":{"type":"text","font":"DejaVu Serif","fontSize":11,"align":"left","baseline":"middle","color":"#111","dx":200,"dy":4.5}},
{"data":{"values":[{"l":1,"t":"based on degree-day technique, plotted as a function of impervious cover in the 500 m surrounding the"}]},"mark":{"type":"text","font":"DejaVu Serif","fontSize":16,"align":"left","baseline":"middle","color":"#111","dx":211}},
{"data":{"values":[{"l":2,"t":"sensor calculated using the hybrid method. Colors correspond to sensor type categories as shown in upper left panel. Points represent"},{"l":3,"t":"mean of 100 permutations and vertical lines one standard deviation around each point. Solid black line is a linear fit to means and"},{"l":4,"t":"dashed lines to ±1 standard deviation. All slopes and intercepts are significantly different from 0 (p < 0.05) using two-tailed t-test."}]},"mark":{"type":"text","font":"DejaVu Serif","fontSize":16,"align":"left","baseline":"middle","color":"#111"}}
]
}
]
}
],
"columns":3,
"spacing":{"row":12,"column":8.5},
"bounds":"flush",
"align":"each"
}
